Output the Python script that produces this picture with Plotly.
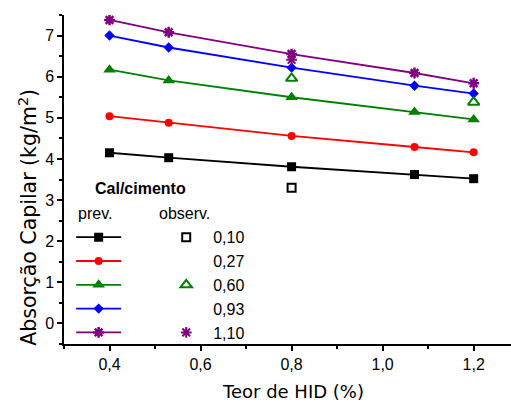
import plotly.graph_objects as go

# HID content (%) at which capillary absorption was predicted
hid = [0.4, 0.53, 0.8, 1.07, 1.2]

# Lime/cement ratios (legend labels)
cal_labels = ["0,10", "0,27", "0,60", "0,93", "1,10"]

# Predicted capillary absorption (kg/m2) for each lime/cement ratio
prev_010 = [4.15, 4.03, 3.81, 3.62, 3.52]
prev_027 = [5.04, 4.88, 4.56, 4.29, 4.16]
prev_060 = [6.17, 5.91, 5.50, 5.14, 4.96]
prev_093 = [7.00, 6.71, 6.22, 5.78, 5.59]
prev_110 = [7.38, 7.08, 6.55, 6.09, 5.84]

# Observed capillary absorption (kg/m2)
obs_hid_010 = [0.8]
obs_010 = [3.30]
obs_hid_027 = []
obs_027 = []
obs_hid_060 = [0.8, 1.2]
obs_060 = [5.96, 5.38]
obs_hid_093 = []
obs_093 = []
obs_hid_110 = [0.8]
obs_110 = [6.41]

colors = ["#000000", "#ff0000", "#008000", "#0000ff", "#800080"]
prev_series = [prev_010, prev_027, prev_060, prev_093, prev_110]
prev_symbols = ["square", "circle", "triangle-up", "diamond", "asterisk-open"]
prev_sizes = [9, 8, 11, 8, 9]

obs_x = [obs_hid_010, obs_hid_027, obs_hid_060, obs_hid_093, obs_hid_110]
obs_y = [obs_010, obs_027, obs_060, obs_093, obs_110]
obs_symbols = ["square-open", None, "triangle-up-open", None, "asterisk-open"]
obs_sizes = [8, 0, 10, 0, 9]

FONT = "Liberation Sans, Arial, sans-serif"
TITLE_FONT = "DejaVu Sans, sans-serif"

fig = go.Figure()

for i, ys in enumerate(prev_series):
    sym = prev_symbols[i]
    marker = dict(symbol=sym, size=prev_sizes[i], color=colors[i])
    if sym.endswith("open"):
        marker["line"] = dict(color=colors[i], width=2.5)
    else:
        marker["line"] = dict(width=0)
    fig.add_trace(go.Scatter(
        x=hid, y=ys, mode="lines+markers", name=" ",
        line=dict(color=colors[i], width=1.8),
        marker=marker, legend="legend", showlegend=True,
    ))

for i in range(5):
    if obs_symbols[i] is None:
        # ratio without observed values: keeps its row in the legend only
        fig.add_trace(go.Scatter(
            x=obs_x[i] or [None], y=obs_y[i] or [None], mode="markers",
            name=cal_labels[i],
            marker=dict(color="rgba(0,0,0,0)", size=1), legend="legend2",
        ))
    else:
        fig.add_trace(go.Scatter(
            x=obs_x[i], y=obs_y[i], mode="markers", name=cal_labels[i],
            marker=dict(symbol=obs_symbols[i], size=obs_sizes[i],
                        color=colors[i], line=dict(color=colors[i], width=2)),
            legend="legend2",
        ))

axis_common = dict(
    showline=True, linecolor="black", linewidth=1.5,
    ticks="outside", ticklen=5, tickwidth=1.5, tickcolor="black",
    showgrid=False, zeroline=False, mirror=False,
    tickfont=dict(family=FONT, size=16, color="black"),
)

fig.update_xaxes(
    range=[0.3, 1.282], tickvals=[0.4, 0.6, 0.8, 1.0, 1.2], tickformat=".1f",
    minor=dict(dtick=0.1, tick0=0.3, ticks="outside", ticklen=3,
               tickwidth=1.5, tickcolor="black"),
    **axis_common,
)
fig.update_yaxes(
    range=[-0.5, 7.5], tickvals=list(range(0, 8)), tickformat="d",
    minor=dict(dtick=0.5, tick0=-0.5, ticks="outside", ticklen=3,
               tickwidth=1.5, tickcolor="black"),
    **axis_common,
)

fig.update_layout(
    width=511, height=403,
    margin=dict(l=64, r=0, t=15, b=59),
    paper_bgcolor="white", plot_bgcolor="white",
    separators=",.",
    font=dict(family=FONT, size=16, color="black"),
    legend=dict(
        x=0.016, y=0.376, xanchor="left", yanchor="top",
        bgcolor="rgba(0,0,0,0)", borderwidth=0, itemwidth=45,
        font=dict(family=FONT, size=16), tracegroupgap=0,
        itemclick=False, itemdoubleclick=False,
    ),
    legend2=dict(
        x=0.213, y=0.376, xanchor="left", yanchor="top",
        bgcolor="rgba(0,0,0,0)", borderwidth=0, itemwidth=44,
        font=dict(family=FONT, size=16), tracegroupgap=0,
        itemclick=False, itemdoubleclick=False,
    ),
    annotations=[
        dict(text="<b>Cal/cimento</b>", xref="paper", yref="paper",
             x=0.065, y=0.474, xanchor="left", yanchor="middle",
             showarrow=False, font=dict(family=FONT, size=16)),
        dict(text="prev.", xref="paper", yref="paper",
             x=0.027, y=0.398, xanchor="left", yanchor="middle",
             showarrow=False, font=dict(family=FONT, size=16)),
        dict(text="observ.", xref="paper", yref="paper",
             x=0.208, y=0.398, xanchor="left", yanchor="middle",
             showarrow=False, font=dict(family=FONT, size=16)),
        dict(text="Teor de HID (%)", xref="paper", yref="paper",
             x=0.512, y=-0.143, xanchor="center", yanchor="middle",
             showarrow=False, font=dict(family=TITLE_FONT, size=18)),
        dict(text="Absorção Capilar (kg/m<sup>2</sup>)", xref="paper",
             yref="paper", x=-0.081, y=0.386, xanchor="center",
             yanchor="middle", textangle=-90, showarrow=False,
             font=dict(family=TITLE_FONT, size=20.5)),
    ],
)

fig.write_html("out.html")
